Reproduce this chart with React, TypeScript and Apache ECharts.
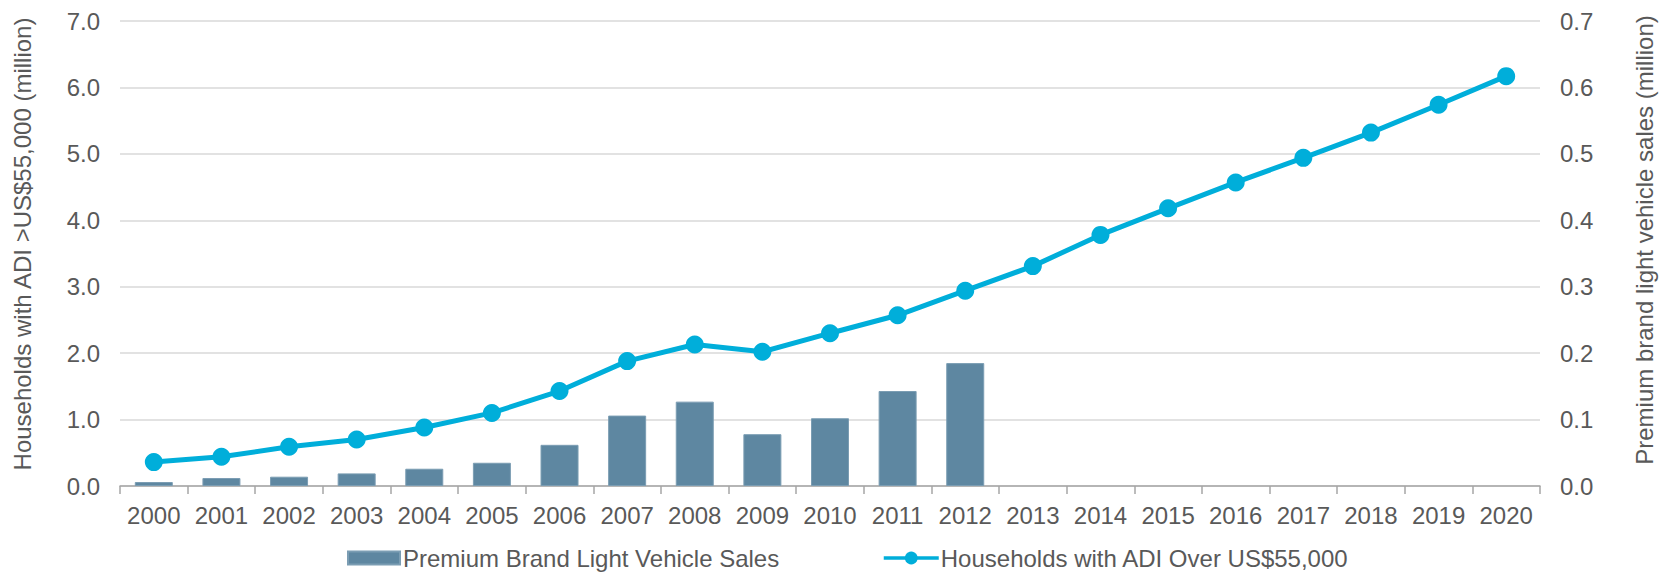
import React, { useEffect, useRef } from "react";
import * as echarts from "echarts";

const years = [
  "2000", "2001", "2002", "2003", "2004", "2005", "2006", "2007", "2008", "2009", "2010",
  "2011", "2012", "2013", "2014", "2015", "2016", "2017", "2018", "2019", "2020",
];

// Premium brand light vehicle sales (million) – right axis
const premiumSales: (number | null)[] = [
  0.006, 0.012, 0.014, 0.019, 0.026, 0.035, 0.062, 0.106, 0.127, 0.078, 0.102,
  0.143, 0.185, null, null, null, null, null, null, null, null,
];

// Households with ADI over US$55,000 (million) – left axis
const households = [
  0.36, 0.44, 0.59, 0.7, 0.88, 1.1, 1.43, 1.88, 2.13, 2.02, 2.3,
  2.57, 2.94, 3.31, 3.78, 4.18, 4.57, 4.94, 5.32, 5.74, 6.17,
];

const leftName = "Households with ADI >US$55,000 (million)";
const rightName = "Premium brand light vehicle sales (million)";
const barName = "Premium Brand Light Vehicle Sales";
const lineName = "Households with ADI Over US$55,000";

const FONT = "'Liberation Sans', Arial, Helvetica, sans-serif";
const TXT = "#595959";
const FS = 24;

export default function App() {
  const ref = useRef<HTMLDivElement>(null);
  useEffect(() => {
    if (!ref.current) return;
    const chart = echarts.init(ref.current, null, { renderer: "svg" });
    chart.setOption({
      animation: false,
      backgroundColor: "#ffffff",
      textStyle: { fontFamily: FONT, color: TXT },
      grid: { left: 120, right: 129, top: 21, bottom: 89, containLabel: false },
      legend: [
        {
          left: 347,
          top: 546,
          padding: 0,
          itemWidth: 52,
          itemHeight: 13,
          textStyle: { fontFamily: FONT, fontSize: FS, color: TXT, padding: [0, 0, 0, -2] },
          data: [{ name: barName, icon: "rect" }],
        },
        {
          left: 882,
          top: 546,
          padding: 0,
          itemWidth: 55,
          itemHeight: 16,
          lineStyle: { width: 3.5 },
          textStyle: { fontFamily: FONT, fontSize: FS, color: TXT, padding: [0, 0, 0, -3] },
          data: [{ name: lineName }],
        },
      ],
      xAxis: {
        type: "category",
        data: years,
        boundaryGap: true,
        axisLine: { show: true, lineStyle: { color: "#A6A6A6", width: 1.5 } },
        axisTick: { show: true, length: 8, lineStyle: { color: "#A6A6A6", width: 1.5 } },
        axisLabel: { fontFamily: FONT, fontSize: FS, color: TXT, margin: 17, interval: 0 },
        splitLine: { show: false },
      },
      yAxis: [
        {
          type: "value",
          min: 0,
          max: 7,
          interval: 1,
          axisLine: { show: false },
          axisTick: { show: false },
          axisLabel: {
            fontFamily: FONT,
            fontSize: FS,
            color: TXT,
            margin: 20,
            formatter: (v: number) => v.toFixed(1),
          },
          splitLine: { show: true, lineStyle: { color: "#D9D9D9", width: 1.5 } },
        },
        {
          type: "value",
          min: 0,
          max: 0.7,
          interval: 0.1,
          axisLine: { show: false },
          axisTick: { show: false },
          axisLabel: {
            fontFamily: FONT,
            fontSize: FS,
            color: TXT,
            margin: 20,
            formatter: (v: number) => v.toFixed(1),
          },
          splitLine: { show: false },
        },
      ],
      series: [
        {
          name: barName,
          type: "bar",
          yAxisIndex: 1,
          data: premiumSales,
          barWidth: 38,
          itemStyle: { color: "#5E87A1", borderColor: "#7B9DB3", borderWidth: 1 },
        },
        {
          name: lineName,
          type: "line",
          yAxisIndex: 0,
          data: households,
          symbol: "circle",
          symbolSize: 18,
          lineStyle: { color: "#00AEDA", width: 5 },
          itemStyle: { color: "#00AEDA" },
          z: 3,
        },
      ],
      graphic: [
        {
          type: "text",
          x: 22,
          y: 244,
          rotation: Math.PI / 2,
          style: {
            text: leftName,
            fontFamily: FONT,
            fontSize: FS,
            fill: TXT,
            textAlign: "center",
            textVerticalAlign: "middle",
          },
        },
        {
          type: "text",
          x: 1644,
          y: 240,
          rotation: Math.PI / 2,
          style: {
            text: rightName,
            fontFamily: FONT,
            fontSize: FS,
            fill: TXT,
            textAlign: "center",
            textVerticalAlign: "middle",
          },
        },
      ],
    });
    return () => chart.dispose();
  }, []);
  return (
    <div
      ref={ref}
      style={{ position: "absolute", left: 0, top: 0, width: 1669, height: 575 }}
    />
  );
}
